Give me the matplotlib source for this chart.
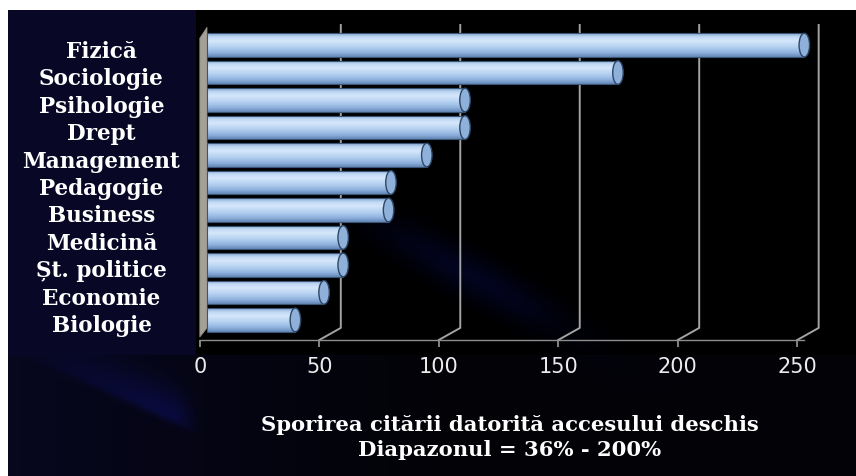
import numpy as np
import matplotlib

matplotlib.use("Agg")
import matplotlib.pyplot as plt
from matplotlib.colors import LinearSegmentedColormap
from matplotlib.patches import Ellipse, Polygon
from matplotlib.transforms import ScaledTranslation

categories = [
    "Fizică", "Sociologie", "Psihologie", "Drept", "Management", "Pedagogie",
    "Business", "Medicină", "Șt. politice", "Economie", "Biologie",
]
values = [250, 172, 108, 108, 92, 77, 76, 57, 57, 49, 37]
x_ticks = [0, 50, 100, 150, 200, 250]
caption_lines = ["Sporirea citării datorită accesului deschis", "Diapazonul = 36% - 200%"]

W, H = 856, 476
fig = plt.figure(figsize=(W / 100, H / 100), dpi=100)

# background: white margin, navy label panel, black plot area, blue glow
yy, xx = np.mgrid[0:H, 0:W].astype(float)
bg = np.ones((H, W, 3))
navy = np.array([0.035, 0.035, 0.15])
inside = (yy >= 10) & (xx >= 8)
bg[inside] = 0.0
panel = inside & (xx < 196) & (yy < 355)
bg[panel] = navy
lower = inside & (yy >= 355)
mix = np.clip(1 - (xx[lower] - 8) / 420, 0, 1)[:, None]
bg[lower] = navy * 0.8 * mix + np.array([0.01, 0.01, 0.03]) * (1 - mix)
# wedge of light in the lower left, brightest along a diagonal edge
d = yy - (357 + 0.45 * (xx - 40))
glow = np.where(d < 0, np.exp(-(d / 28) ** 2), np.exp(-(d / 6) ** 2))
glow = glow * np.clip((xx - 10) / 150, 0, 1) * np.clip((200 - xx) / 25, 0, 1) * (yy >= 355)
glow2_u = ((xx - 470) + 0.55 * (yy - 275)) / 1.14
glow2_v = (-(xx - 470) * 0.55 + (yy - 275)) / 1.14
glow2 = np.exp(-((glow2_u / 110) ** 2 + (glow2_v / 20) ** 2))
blue = np.array([0.03, 0.04, 0.30])
for g, k in ((glow, 0.5), (glow2, 0.4)):
    bg[inside] += (g[inside] * k)[:, None] * blue
bg = np.clip(bg, 0, 1)
bgax = fig.add_axes([0, 0, 1, 1], zorder=-10)
bgax.imshow(bg, extent=(0, W, H, 0), aspect="auto", interpolation="bilinear")
bgax.axis("off")

ax = fig.add_axes([207 / W, 1 - 340 / H, 626 / W, 318 / H])
ax.set_facecolor("none")
ypos = np.arange(len(categories))
y_top, y_back, y_front = -0.73, 10.29, 10.73
grid_color = "#a3a3a3"

# back wall grid lines with their slanted floor part
for t in x_ticks[1:]:
    ax.plot([t + 6, t + 6, t - 3], [y_top, y_back, y_front], color=grid_color, lw=1.4, zorder=1)

# left side wall
ax.add_patch(Polygon([(-3, 10.62), (-3, -0.25), (0, -0.65), (0, y_back)],
                     closed=True, facecolor="#a59f97", edgecolor="#8d8880", lw=0.6,
                     zorder=1.5, clip_on=False))

# cylinder bars
cyl = LinearSegmentedColormap.from_list(
    "cyl", ["#86a7d2", "#c3dbf6", "#d4e6fa", "#c0d8f4", "#a9c7ec", "#8cafdc", "#6487b6"]
)
grad = np.linspace(0, 1, 64).reshape(-1, 1)
bar_h = 0.86
bars = ax.barh(ypos, values, height=bar_h, color="none", edgecolor="#3a5676", lw=0.8, zorder=3)
for bar, v, y in zip(bars, values, ypos):
    im = ax.imshow(grad, cmap=cyl, extent=(0, v, y + bar_h / 2, y - bar_h / 2),
                   aspect="auto", interpolation="bicubic", zorder=2)
    im.set_clip_path(bar)
    ax.add_patch(Ellipse((v, y), width=4.4, height=bar_h, facecolor="#8fb0d9",
                         edgecolor="#2d4767", lw=1.0, zorder=4))

ax.set_xlim(0, 262)
ax.set_ylim(10.73, -0.84)

for side in ("top", "right", "left"):
    ax.spines[side].set_visible(False)
ax.spines["bottom"].set_color("#8e8e8e")
ax.spines["bottom"].set_linewidth(1.0)
ax.spines["bottom"].set_bounds(-3, 250)

ax.set_xticks(x_ticks)
ax.set_xticklabels([str(t) for t in x_ticks])
ax.tick_params(axis="x", length=5, width=1.2, color="#9a9a9a", labelcolor="#ececec",
               labelsize=15, pad=7)
# the front plane of the 3D box sits a few pixels left of the bar plane
front_shift = ScaledTranslation(-7 / 100, 0, fig.dpi_scale_trans)
for tick in ax.xaxis.get_major_ticks():
    tick.tick1line.set_transform(tick.tick1line.get_transform() + front_shift)
    tick.label1.set_transform(tick.label1.get_transform() + front_shift)

ax.set_yticks(ypos)
ax.set_yticklabels(categories)
ax.tick_params(axis="y", length=0, pad=76, labelcolor="white")
label_shift = ScaledTranslation(0, -4 / 100, fig.dpi_scale_trans)
for lab in ax.get_yticklabels():
    lab.set_horizontalalignment("center")
    lab.set_family("DejaVu Serif")
    lab.set_weight("bold")
    lab.set_fontsize(15.5)
    lab.set_transform(lab.get_transform() + label_shift)

fig.text(510 / W, 1 - 425 / H, caption_lines[0], ha="center", va="center", color="white",
         family="DejaVu Serif", weight="bold", fontsize=15.2)
fig.text(510 / W, 1 - 450 / H, caption_lines[1], ha="center", va="center", color="white",
         family="DejaVu Serif", weight="bold", fontsize=15.2)

fig.savefig("out.png", dpi=100)
